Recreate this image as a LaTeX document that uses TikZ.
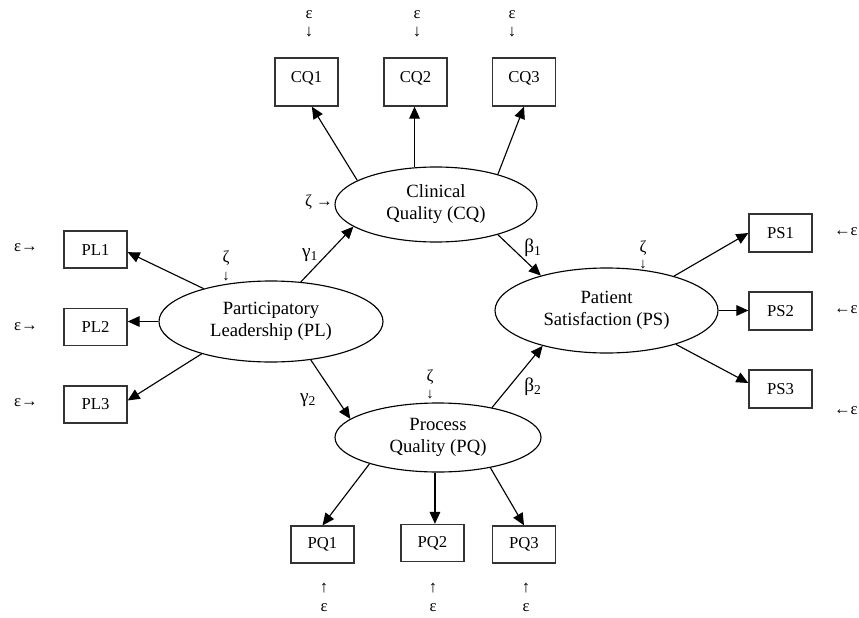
\documentclass[tikz,border=0pt]{standalone}
\usepackage{fontspec}
\setmainfont{Liberation Serif}
\usetikzlibrary{shapes.geometric,arrows.meta}
\begin{document}
\begin{tikzpicture}[x=0.75pt,y=-0.75pt,
 lat/.style={ellipse,draw,line width=0.85pt,inner sep=0pt,align=center,font=\fontsize{14}{16.5}\selectfont},
 ind/.style={rectangle,draw=black!80,line width=1pt,inner sep=0pt,minimum width=47.25pt,font=\fontsize{12.5}{14}\selectfont},
 conn/.style={line width=0.85pt,-{Triangle[length=9pt,width=8pt]}},
 err/.style={inner sep=0pt,font=\fontsize{12.5}{14}\selectfont},
 sarr/.style={inner sep=0pt,font=\fontsize{11}{13}\selectfont},
 coef/.style={inner sep=0pt,font=\fontsize{14.5}{16}\selectfont}]
\useasboundingbox (0,0) rectangle (859,617);

% latent variables
\node[lat,minimum width=151.5pt,minimum height=56.25pt] (CQ) at (436,204.5) {Clinical\\Quality (CQ)};
\node[lat,minimum width=168pt,minimum height=60.75pt] (PL) at (271,321.5) {Participatory\\Leadership (PL)};
\node[lat,minimum width=167.25pt,minimum height=63.75pt] (PS) at (606.5,310.5) {Patient\\Satisfaction (PS)};
\node[lat,minimum width=154.5pt,minimum height=51.75pt] (PQ) at (438,437.5) {Process\\Quality (PQ)};

% indicators
\node[ind,minimum height=36pt] (CQ1) at (306.5,82) {\raisebox{7pt}{CQ1}};
\node[ind,minimum height=36pt] (CQ2) at (415.5,82) {\raisebox{7pt}{CQ2}};
\node[ind,minimum height=36pt] (CQ3) at (524,82) {\raisebox{7pt}{CQ3}};
\node[ind,minimum height=27.75pt] (PL1) at (95.5,249.5) {PL1};
\node[ind,minimum height=27.75pt] (PL2) at (95.5,327) {PL2};
\node[ind,minimum height=27.75pt] (PL3) at (95.5,404.5) {PL3};
\node[ind,minimum height=28.5pt] (PS1) at (780.5,233) {PS1};
\node[ind,minimum height=28.5pt] (PS2) at (780.5,311) {PS2};
\node[ind,minimum height=28.5pt] (PS3) at (780.5,389) {PS3};
\node[ind,minimum height=27.75pt] (PQ1) at (322.5,544.5) {PQ1};
\node[ind,minimum height=27.75pt] (PQ2) at (432.5,543) {PQ2};
\node[ind,minimum height=27.75pt] (PQ3) at (524,544.5) {PQ3};

% connectors
\draw[conn] (PL.154) -- ([yshift=-2pt]PL1.east);
\draw[conn] (PL.180) -- (PL.180 -| PL2.east);
\draw[conn] (PL.205) -- ([yshift=3pt]PL3.east);
\draw[conn] (PL.53) -- (CQ.195);
\draw[conn] (PL.316) -- (PQ.168);
\draw[conn] (CQ.163) -- ([xshift=4pt]CQ1.south);
\draw[conn] (CQ.120) -- (CQ.120 |- CQ2.south);
\draw[conn] (CQ.26) -- (CQ3.south);
\draw[conn] (CQ.334) -- (PS.152);
\draw[conn] (PQ.29) -- (PS.209);
\draw[conn] (PS.27) -- (PS1.west);
\draw[conn] (PS.east) -- (PS.east -| PS2.west);
\draw[conn] (PS.334) -- ([yshift=4.5pt]PS3.west);
\draw[conn] (PQ.201) -- (PQ1.north);
\draw[conn] (PQ.265) -- (PQ.265 |- PQ2.north);
\draw[conn] (PQ.330) -- (PQ3.north);

% error terms
\node[err] (e1) at (309,15) {ε};
\node[err] (e1a) at (309,32) {↓};
\node[err] (e2) at (417,15) {ε};
\node[err] (e2a) at (417,32) {↓};
\node[err] (e3) at (512,15) {ε};
\node[err] (e3a) at (512,32) {↓};
\node[err] (e4) at (26,248) {ε→};
\node[err] (e5) at (26,327) {ε→};
\node[err] (e6) at (26,403) {ε→};
\node[err,anchor=east] (e7) at (858,232) {←ε};
\node[err,anchor=east] (e8) at (858,310) {←ε};
\node[err,anchor=east] (e9) at (858,411) {←ε};
\node[err] (e10a) at (324,588) {↑};
\node[err] (e10) at (324,608) {ε};
\node[err] (e11a) at (433,588) {↑};
\node[err] (e11) at (433,608) {ε};
\node[err] (e12a) at (526,588) {↑};
\node[err] (e12) at (526,608) {ε};

% disturbances
\node[err] (z1) at (319,202) {ζ →};
\node[err] (z2) at (226,258) {ζ};
\node[sarr] (z2a) at (226,277) {↓};
\node[err] (z3) at (643,248) {ζ};
\node[sarr] (z3a) at (643,265) {↓};
\node[err] (z4) at (430,377) {ζ};
\node[sarr] (z4a) at (430,395) {↓};

% coefficients
\node[coef] (g1) at (310,255) {γ\textsubscript{1}};
\node[coef] (g2) at (308,400) {γ\textsubscript{2}};
\node[coef] (b1) at (533,248) {β\textsubscript{1}};
\node[coef] (b2) at (533,387) {β\textsubscript{2}};
\end{tikzpicture}
\end{document}
